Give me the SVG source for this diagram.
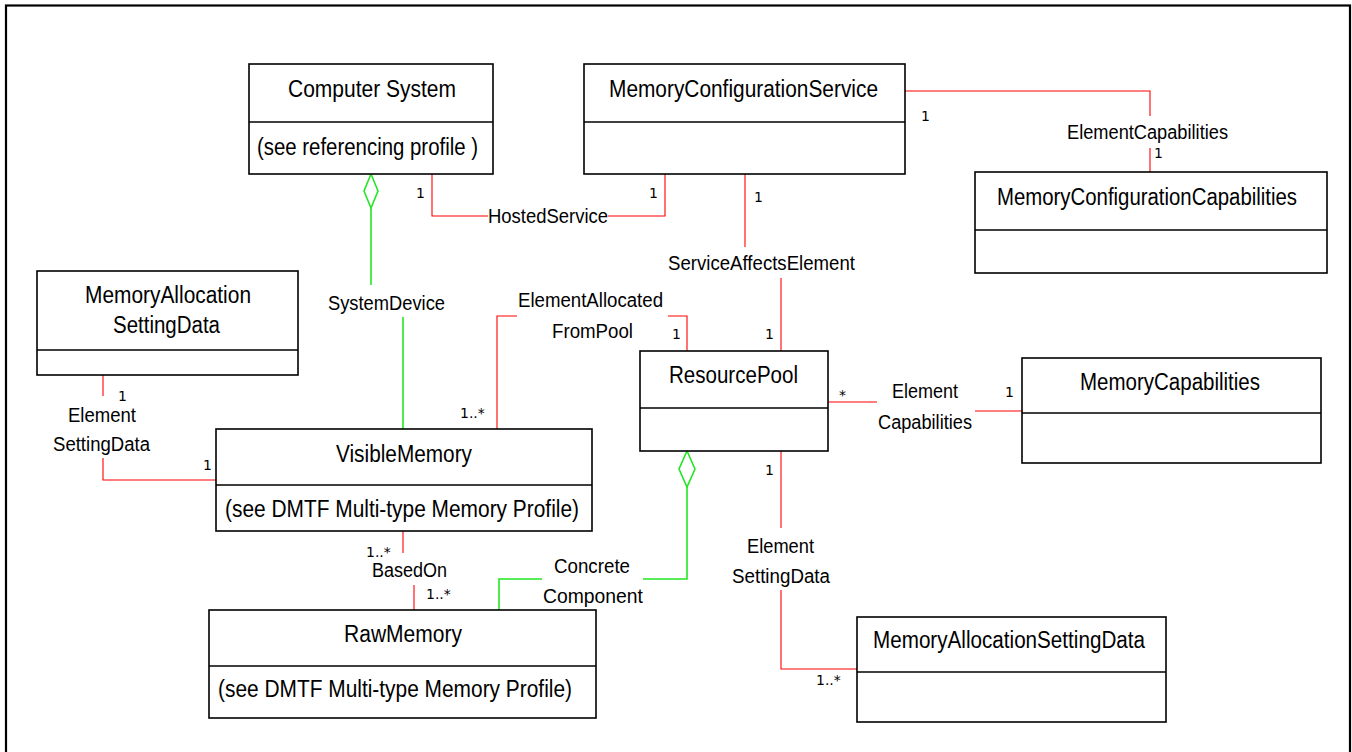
<svg xmlns="http://www.w3.org/2000/svg" width="1352" height="752" viewBox="0 0 1352 752">
<style>
.box{fill:#fff;stroke:#000;stroke-width:1.6}
.div{stroke:#000;stroke-width:1.6}
.r{fill:none;stroke:#ff0000;stroke-width:1.1}
.g{fill:none;stroke:#22e622;stroke-width:1.6}
.dia{fill:#fff;stroke:#22e622;stroke-width:1.6}
.t{font-family:"Liberation Sans",Arial,sans-serif;font-size:23px;fill:#000}
.l{font-family:"Liberation Sans",Arial,sans-serif;font-size:20px;fill:#000}
.m{font-family:"DejaVu Sans",Verdana,sans-serif;font-size:14px;fill:#000}
</style>
<rect x="6" y="5.5" width="1344" height="760" fill="#fff" stroke="#000" stroke-width="2.2"/>
<g id="connectors">
<polyline class="r" points="432,174 432,216 488,216"/>
<polyline class="r" points="608,216 665,216 665,174"/>
<polyline class="r" points="905,91 1150,91 1150,116"/>
<polyline class="r" points="1150,148 1150,172"/>
<polyline class="r" points="745,174 745,247"/>
<polyline class="r" points="781,278 781,351"/>
<polyline class="r" points="497,429 497,316 517,316"/>
<polyline class="r" points="668,316 687,316 687,351"/>
<polyline class="r" points="828,402 877,402"/>
<polyline class="r" points="975,411 1022,411"/>
<polyline class="r" points="103,375 103,396"/>
<polyline class="r" points="103,458 103,480 216,480"/>
<polyline class="r" points="403,531 403,553"/>
<polyline class="r" points="414,585 414,610"/>
<polyline class="r" points="781,451 781,528"/>
<polyline class="r" points="781,590 781,669 857,669"/>
<polyline class="g" points="371,208 371,285"/>
<polyline class="g" points="403,317 403,429"/>
<polygon class="dia" points="371,174 378,191 371,208 364,191"/>
<polyline class="g" points="687,487 687,579 643,579"/>
<polyline class="g" points="542,579 499,579 499,610"/>
<polygon class="dia" points="687,451 695,469 687,487 679,469"/>
<text class="l" x="488" y="223" textLength="120" lengthAdjust="spacingAndGlyphs">HostedService</text>
<text class="l" x="1067" y="139" textLength="161" lengthAdjust="spacingAndGlyphs">ElementCapabilities</text>
<text class="l" x="668" y="270" textLength="187" lengthAdjust="spacingAndGlyphs">ServiceAffectsElement</text>
<text class="l" x="328" y="310" textLength="117" lengthAdjust="spacingAndGlyphs">SystemDevice</text>
<text class="l" x="518" y="307" textLength="145" lengthAdjust="spacingAndGlyphs">ElementAllocated</text>
<text class="l" x="552" y="338" textLength="81" lengthAdjust="spacingAndGlyphs">FromPool</text>
<text class="l" x="892" y="398" textLength="66" lengthAdjust="spacingAndGlyphs">Element</text>
<text class="l" x="878" y="429" textLength="94" lengthAdjust="spacingAndGlyphs">Capabilities</text>
<text class="l" x="68" y="422" textLength="68" lengthAdjust="spacingAndGlyphs">Element</text>
<text class="l" x="53" y="451" textLength="97" lengthAdjust="spacingAndGlyphs">SettingData</text>
<text class="l" x="372" y="577" textLength="75" lengthAdjust="spacingAndGlyphs">BasedOn</text>
<text class="l" x="554" y="573" textLength="76" lengthAdjust="spacingAndGlyphs">Concrete</text>
<text class="l" x="543" y="603" textLength="100" lengthAdjust="spacingAndGlyphs">Component</text>
<text class="l" x="747" y="553" textLength="67" lengthAdjust="spacingAndGlyphs">Element</text>
<text class="l" x="732" y="583" textLength="98" lengthAdjust="spacingAndGlyphs">SettingData</text>
<text class="m" x="416" y="198">1</text>
<text class="m" x="649" y="198">1</text>
<text class="m" x="921" y="121">1</text>
<text class="m" x="1154" y="158">1</text>
<text class="m" x="754" y="202">1</text>
<text class="m" x="672" y="339">1</text>
<text class="m" x="765" y="339">1</text>
<text class="m" x="839" y="400">*</text>
<text class="m" x="1005" y="397">1</text>
<text class="m" x="765" y="475">1</text>
<text class="m" x="460" y="418">1..*</text>
<text class="m" x="118" y="401">1</text>
<text class="m" x="203" y="470">1</text>
<text class="m" x="366" y="557">1..*</text>
<text class="m" x="426" y="599">1..*</text>
<text class="m" x="816" y="685">1..*</text>
</g>
<g id="ComputerSystem">
<rect class="box" x="249" y="64" width="244" height="110"/>
<line class="div" x1="249" y1="122" x2="493" y2="122"/>
<text class="t" x="288" y="97" textLength="168" lengthAdjust="spacingAndGlyphs">Computer System</text>
<text class="t" x="257" y="155" textLength="221" lengthAdjust="spacingAndGlyphs">(see referencing profile )</text>
</g>
<g id="MemoryConfigurationService">
<rect class="box" x="584" y="64" width="321" height="110"/>
<line class="div" x1="584" y1="122" x2="905" y2="122"/>
<text class="t" x="609" y="97" textLength="269" lengthAdjust="spacingAndGlyphs">MemoryConfigurationService</text>
</g>
<g id="MemoryConfigurationCapabilities">
<rect class="box" x="975" y="172" width="352" height="101"/>
<line class="div" x1="975" y1="230" x2="1327" y2="230"/>
<text class="t" x="997" y="205" textLength="300" lengthAdjust="spacingAndGlyphs">MemoryConfigurationCapabilities</text>
</g>
<g id="MemoryAllocationSettingDataLeft">
<rect class="box" x="37" y="271" width="261" height="104"/>
<line class="div" x1="37" y1="350" x2="298" y2="350"/>
<text class="t" x="85" y="303" textLength="166" lengthAdjust="spacingAndGlyphs">MemoryAllocation</text>
<text class="t" x="113" y="333" textLength="107" lengthAdjust="spacingAndGlyphs">SettingData</text>
</g>
<g id="VisibleMemory">
<rect class="box" x="216" y="429" width="376" height="102"/>
<line class="div" x1="216" y1="485" x2="592" y2="485"/>
<text class="t" x="336" y="462" textLength="136" lengthAdjust="spacingAndGlyphs">VisibleMemory</text>
<text class="t" x="225" y="517" textLength="354" lengthAdjust="spacingAndGlyphs">(see DMTF Multi-type Memory Profile)</text>
</g>
<g id="ResourcePool">
<rect class="box" x="640" y="351" width="188" height="100"/>
<line class="div" x1="640" y1="408" x2="828" y2="408"/>
<text class="t" x="669" y="383" textLength="129" lengthAdjust="spacingAndGlyphs">ResourcePool</text>
</g>
<g id="MemoryCapabilities">
<rect class="box" x="1022" y="358" width="299" height="105"/>
<line class="div" x1="1022" y1="413" x2="1321" y2="413"/>
<text class="t" x="1080" y="390" textLength="180" lengthAdjust="spacingAndGlyphs">MemoryCapabilities</text>
</g>
<g id="RawMemory">
<rect class="box" x="209" y="610" width="387" height="108"/>
<line class="div" x1="209" y1="666" x2="596" y2="666"/>
<text class="t" x="344" y="642" textLength="118" lengthAdjust="spacingAndGlyphs">RawMemory</text>
<text class="t" x="218" y="697" textLength="354" lengthAdjust="spacingAndGlyphs">(see DMTF Multi-type Memory Profile)</text>
</g>
<g id="MemoryAllocationSettingDataRight">
<rect class="box" x="857" y="617" width="309" height="105"/>
<line class="div" x1="857" y1="672" x2="1166" y2="672"/>
<text class="t" x="873" y="648" textLength="272" lengthAdjust="spacingAndGlyphs">MemoryAllocationSettingData</text>
</g>
</svg>
